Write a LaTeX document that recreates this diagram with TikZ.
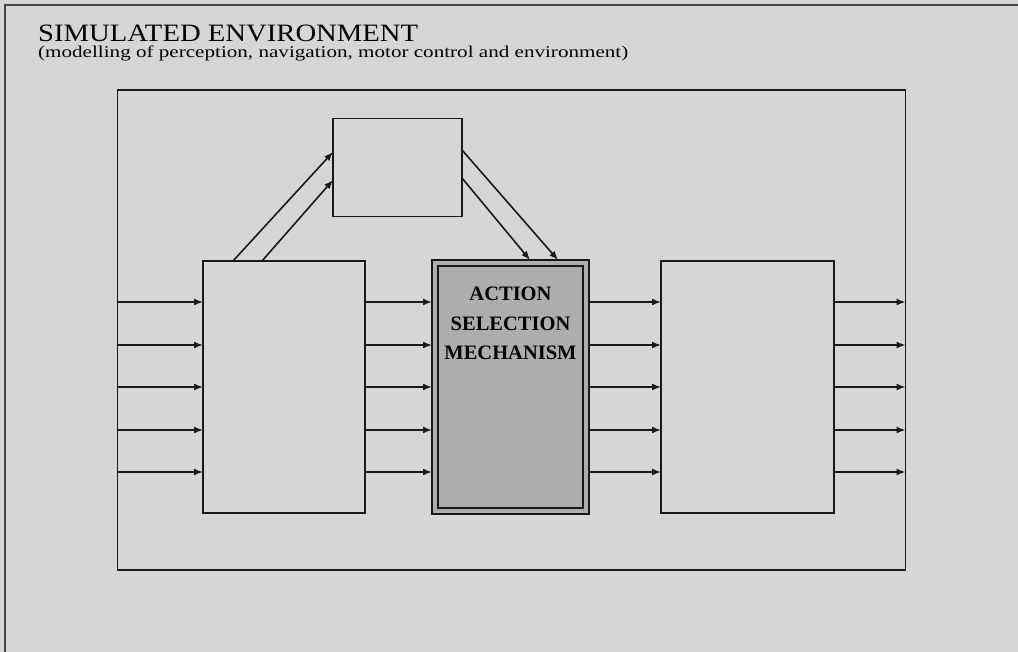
\documentclass[tikz,border=0pt]{standalone}
\usepackage{fontspec}
\usepackage{graphicx}
\setmainfont{Liberation Serif}
\usetikzlibrary{arrows.meta}
\definecolor{bg}{gray}{0.84}
\definecolor{asmfill}{gray}{0.68}
\definecolor{ink}{gray}{0.10}
\tikzset{
  boxnode/.style={draw=ink, line width=1.5pt, fill=bg, inner sep=0pt, outer sep=0pt},
  framebox/.style={draw=ink, line width=1.4pt, inner sep=0pt, outer sep=0pt},
  arr/.style={draw=ink, line width=1.6pt, -{Latex[length=9pt,width=7pt]}},
  edge/.style={draw=ink!80, line width=1.8pt},
}
\begin{document}
\begin{tikzpicture}[x=1pt,y=-1pt]
\useasboundingbox (0,0) rectangle (1018,652);
\fill[bg] (0,0) rectangle (1018,652);
\draw[edge] (5,652) -- (5,5) -- (1018,5);
% title texts
\node[anchor=base west, inner sep=0pt, text depth=0pt, font=\fontsize{25}{30}\selectfont] (title) at (38,41.5) {\resizebox{380pt}{\height}{SIMULATED ENVIRONMENT}};
\node[anchor=base west, inner sep=0pt, font=\fontsize{16.5}{20}\selectfont] (sub) at (38,58) {\resizebox{590pt}{\height}{(modelling of perception, navigation, motor control and environment)}};
% environment frame
\node[framebox, minimum width=788pt, minimum height=480pt] (env) at (511.5,330) {};
% boxes
\node[boxnode, minimum width=129pt, minimum height=98pt] (top) at (397.5,167.5) {};
\node[boxnode, minimum width=162pt, minimum height=252pt] (left) at (284,387) {};
\node[boxnode, fill=asmfill, minimum width=157pt, minimum height=254pt] (asm) at (510.5,387) {};
\node[draw=ink, line width=1.2pt, inner sep=0pt, minimum width=145pt, minimum height=242pt] (asmin) at (510.5,387) {};
\node[anchor=north, align=center, inner sep=0pt, font=\fontsize{20.5}{29.5}\selectfont\bfseries] (asmtext) at (510.5,287) {ACTION\\SELECTION\\MECHANISM};
\node[boxnode, minimum width=173pt, minimum height=252pt] (right) at (747.5,387) {};
% horizontal arrows
\foreach \yy in {302,345,387,430,472}{
  \draw[arr] (env.west |- 0,\yy) -- (left.west |- 0,\yy);
  \draw[arr] (left.east |- 0,\yy) -- (asm.west |- 0,\yy);
  \draw[arr] (asm.east |- 0,\yy) -- (right.west |- 0,\yy);
  \draw[arr] (right.east |- 0,\yy) -- (env.east |- 0,\yy);
}
% diagonal arrows
\draw[arr] (left.north -| 233,0) -- (top.west |- 0,152);
\draw[arr] (left.north -| 262,0) -- (top.west |- 0,180);
\draw[arr] (top.east |- 0,150) -- (asm.north -| 558,0);
\draw[arr] (top.east |- 0,178) -- (asm.north -| 530,0);
\end{tikzpicture}
\end{document}
